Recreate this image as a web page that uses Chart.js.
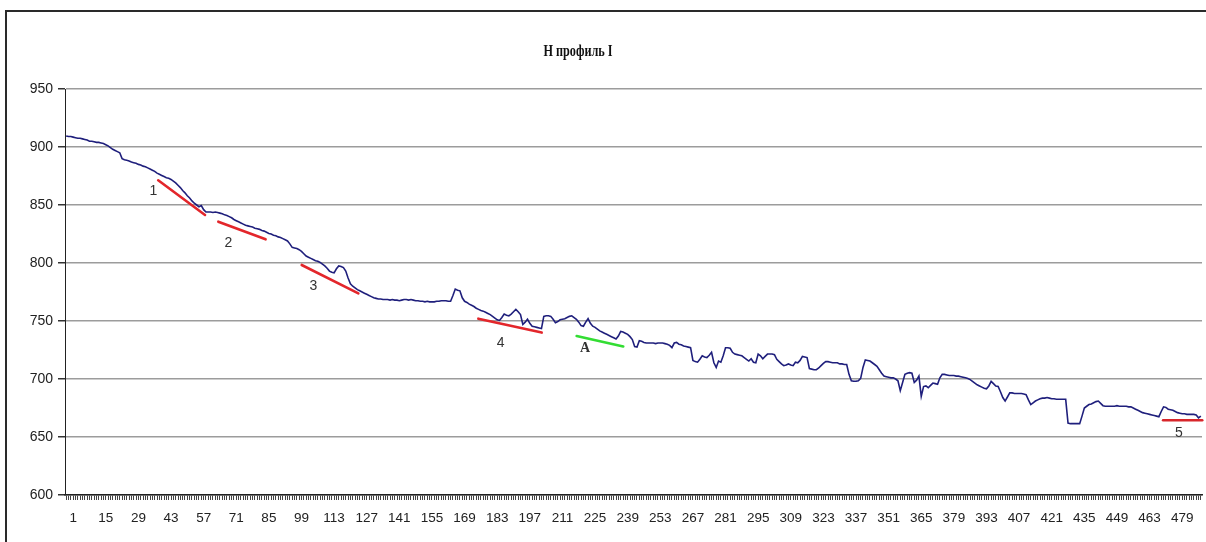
<!DOCTYPE html>
<html>
<head>
<meta charset="utf-8">
<script src="https://cdn.jsdelivr.net/npm/chart.js@4/dist/chart.umd.min.js"></script>
<style>
	html, body { margin: 0; padding: 0; background: #fff; overflow: hidden; width: 1206px; height: 542px; }
	#frame { position: absolute; left: 5px; top: 10px; width: 1201px; height: 532px; border-top: 2px solid #2a2a2a; border-left: 2px solid #2a2a2a; box-sizing: border-box; }
	#wrap { position: absolute; left: 0; top: 0; width: 1206px; height: 542px; }
</style>
</head>
<body>
<div id="frame"></div>
<div id="wrap"><canvas id="profile"></canvas></div>
<script>
// H profile, one value per point (488 points)
var profile = [
	909.5, 909, 909, 908.5, 908, 907.5, 907.5, 907, 906.5, 906,
	905, 905, 904.5, 904, 904, 903.5, 903, 902, 901, 899.5,
	898, 897, 896, 895, 890, 889, 888.5, 888, 887, 886.5,
	886, 885, 884.5, 883.5, 883, 882, 881, 880, 879, 877.5,
	876.5, 875.5, 874.5, 873.5, 873, 872, 870.5, 869, 867, 865,
	862.5, 860.5, 858, 856, 853.5, 851.5, 850, 848.5, 849.5, 846,
	844, 844, 844, 843.5, 844, 843.5, 843, 842.5, 841.5, 841,
	840, 839, 837.5, 836.5, 835.5, 834.5, 833.5, 832.5, 832, 831.5,
	831, 830, 829.5, 829, 828, 827.5, 826.5, 825.5, 825, 824,
	823.5, 822.5, 822, 821, 820, 819, 816.5, 813.5, 813, 812.5,
	811.5, 810, 808, 806, 805, 804, 803, 802, 801.5, 800.5,
	799, 797.5, 795.5, 793, 792, 791.5, 795, 797.5, 797, 796,
	793, 787, 782, 780, 778.5, 777, 776, 775, 774, 773,
	772, 771, 770, 769.5, 769, 769, 768.5, 768.5, 768.5, 768,
	768.5, 768, 768, 767.5, 768, 768.5, 768.5, 768, 768.5, 768,
	767.5, 767.5, 767, 767, 766.5, 767, 766.5, 766.5, 766.5, 767,
	767, 767.5, 767.5, 767.5, 767, 767, 772, 777.5, 776.5, 776,
	770, 767, 766, 764.5, 763.5, 762.5, 761, 760, 759, 758.5,
	757.5, 756.5, 755.5, 754, 752.5, 751, 750.5, 753, 756, 755,
	754.5, 756, 758, 760, 758, 755.5, 747, 749, 751.5, 748,
	745.5, 745, 744.5, 744, 743.5, 754, 754.5, 754.5, 754, 751.5,
	748.5, 749.5, 751, 751.5, 752, 753, 754, 754.5, 753, 751.5,
	749, 746, 745.5, 749, 752, 748, 745.5, 744.5, 743, 741.5,
	740.5, 739.5, 738.5, 737.5, 736.5, 735.5, 734.5, 737, 741, 740.5,
	739.5, 738.5, 736.5, 734, 728, 727.5, 733, 732.5, 731.5, 731,
	731, 731, 731, 730.5, 731, 731, 731, 730.5, 730, 729,
	727, 731, 731.5, 730, 729.5, 728.5, 728, 727.5, 727, 716,
	715, 714.5, 717, 720, 719, 718.5, 720.5, 723, 714, 710,
	715.5, 714.5, 720, 727, 727, 726.5, 723, 721.5, 721, 720.5,
	720, 718.5, 717, 715.5, 717.5, 714.5, 714, 721.5, 720, 717.5,
	719.5, 721.5, 721.5, 721.5, 721, 717, 715, 713, 711.5, 712,
	713, 712, 711.5, 714.5, 714, 716, 719.5, 719, 718.5, 709,
	708.5, 708, 708, 709.5, 711.5, 713.5, 715, 715, 714.5, 714,
	714, 714, 713, 713, 712.5, 712.5, 704, 698.5, 698, 698,
	698.5, 700.5, 710, 716.5, 716, 715.5, 714, 712.5, 711, 708,
	705, 702.5, 702, 701.5, 701, 701, 700, 698.5, 690, 697,
	704, 705, 705.5, 705, 697, 699, 702.5, 685, 693.5, 694,
	692.5, 694.5, 696.5, 696, 695.5, 701, 704, 704, 703.5, 703,
	703, 703, 702.5, 702.5, 702, 701.5, 701, 700.5, 699.5, 698,
	696.5, 695, 694, 693, 692, 691.5, 694, 698, 696, 694,
	693.5, 689, 684, 681, 684.5, 688, 688, 687.5, 687.5, 687.5,
	687.5, 687, 686.5, 682, 678, 679.5, 681, 682, 683, 683.5,
	683.5, 684, 683.5, 683, 683, 682.5, 682.5, 682.5, 682.5, 682.5,
	662, 661.5, 661.5, 661.5, 661.5, 661.5, 668, 675, 676.5, 678,
	678.5, 679.5, 680.5, 681, 679, 677, 676.5, 676.5, 676.5, 676.5,
	676.5, 677, 676.5, 676.5, 676.5, 676.5, 676, 676, 675, 674,
	673, 672, 671, 670.5, 670, 669.5, 669, 668.5, 668, 667.5,
	672, 676, 675.5, 674, 673.5, 673, 672, 671, 670.5, 670,
	670, 669.5, 669.5, 669.5, 669.5, 669, 666.5, 668
];

// category numbers along the profile
var categories = profile.map(function(v, i){ return String(i + 1); });

// labels written under every 14th category
var tickLabels = [1, 15, 29, 43, 57, 71, 85, 99, 113, 127, 141, 155, 169, 183, 197, 211, 225,
	239, 253, 267, 281, 295, 309, 323, 337, 351, 365, 379, 393, 407, 421, 435, 449, 463, 479];
var tickStep = 14;

var yTicks = [600, 650, 700, 750, 800, 850, 900, 950];

// hand drawn segments (category number, value)
var segments = [
	{ from: [40.5, 871.3], to: [60.6, 841.4], color: "#e3262b" },
	{ from: [66.3, 835.6], to: [86.6, 820.4], color: "#e3262b" },
	{ from: [102.1, 798.3], to: [126.4, 773.8], color: "#e3262b" },
	{ from: [177.9, 752], to: [205.1, 740], color: "#e3262b" },
	{ from: [220.1, 737.1], to: [240.1, 728], color: "#33dd33" },
	{ from: [471.8, 664.5], to: [488.6, 664.5], color: "#d8262b" }
];
var segmentNames = ["1", "2", "3", "4", "А", "5"];
var namePlaces = [[38.4, 862], [70.6, 817.5], [107.1, 780], [187.5, 730.9], [223.7, 726.3], [478.6, 653.5]];

var chartTitle = "Н профиль I";

var drawExtras = {
	id: "drawExtras",
	afterDatasetsDraw: function(chart){
		var ctx = chart.ctx;
		var xs = chart.scales.x, ys = chart.scales.y;
		ctx.save();
		ctx.lineCap = "round";
		segments.forEach(function(s){
			ctx.strokeStyle = s.color;
			ctx.lineWidth = 2.6;
			ctx.beginPath();
			ctx.moveTo(xs.getPixelForValue(s.from[0] - 1), ys.getPixelForValue(s.from[1]));
			ctx.lineTo(xs.getPixelForValue(s.to[0] - 1), ys.getPixelForValue(s.to[1]));
			ctx.stroke();
		});
		ctx.fillStyle = "#333";
		ctx.textAlign = "center";
		ctx.textBaseline = "middle";
		segmentNames.forEach(function(n, i){
			ctx.font = n === "А" ? "bold 14px 'Liberation Serif'" : "14px 'Liberation Sans'";
			ctx.fillText(n, xs.getPixelForValue(namePlaces[i][0] - 1), ys.getPixelForValue(namePlaces[i][1]));
		});
		ctx.restore();
	},
	afterDraw: function(chart){
		// narrow serif title, as in the source picture
		var ctx = chart.ctx;
		ctx.save();
		ctx.fillStyle = "#111";
		ctx.font = "bold 17px 'Liberation Serif'";
		ctx.textAlign = "center";
		ctx.textBaseline = "middle";
		ctx.translate(578, 52);
		ctx.scale(0.72, 1);
		ctx.fillText(chartTitle, 0, 0);
		ctx.restore();
	}
};

var ctx = document.getElementById("profile");
var chart = new Chart(ctx, {
	type: "line",
	data: {
		labels: categories,
		datasets: [{
			label: "H",
			data: profile,
			borderColor: "#1f1f7c",
			borderWidth: 1.6,
			pointRadius: 0,
			tension: 0,
			fill: false
		}]
	},
	options: {
		responsive: true,
		maintainAspectRatio: false,
		animation: false,
		layout: { padding: { left: 0, right: 4, top: 89, bottom: 0 } },
		plugins: {
			legend: { display: false },
			title: { display: false },
			tooltip: { enabled: false }
		},
		scales: {
			x: {
				type: "category",
				offset: true,
				grid: { display: true, drawOnChartArea: false, drawTicks: true, tickLength: 5, color: "#444", lineWidth: 1 },
				border: { display: true, color: "#222", width: 1.5 },
				ticks: {
					autoSkip: false,
					maxRotation: 0,
					minRotation: 0,
					padding: 10,
					labelOffset: 7,
					color: "#222",
					font: { family: "'Liberation Sans', Arial", size: 13.5 },
					callback: function(val, idx){
						return idx % tickStep === 0 ? String(tickLabels[idx / tickStep]) : "";
					}
				},
				afterFit: function(scale){
					scale.height = 47;
					// the label padding must not shrink the plot on the right
					scale.paddingLeft = 0;
					scale.paddingRight = 0;
				}
			},
			y: {
				min: yTicks[0],
				max: yTicks[yTicks.length - 1],
				afterBuildTicks: function(scale){
					scale.ticks = yTicks.map(function(v){ return { value: v }; });
				},
				grid: { color: "#9c9c9c", lineWidth: 1.5, tickLength: 7, tickColor: "#333" },
				border: { display: true, color: "#222", width: 1 },
				ticks: {
					padding: 5,
					color: "#222",
					font: { family: "'Liberation Sans', Arial", size: 14 }
				},
				afterFit: function(scale){ scale.width = 65; }
			}
		}
	},
	plugins: [drawExtras]
});
</script>
</body>
</html>
